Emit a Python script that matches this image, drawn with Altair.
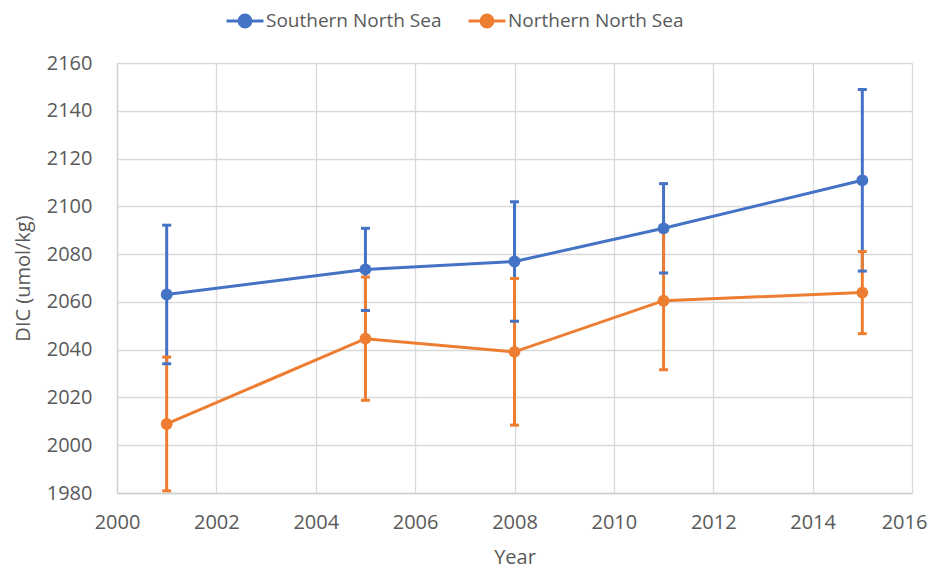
import altair as alt
import pandas as pd

years = [2001, 2005, 2008, 2011, 2015]
series_names = ["Southern North Sea", "Northern North Sea"]
south_mean = [2063.1, 2073.6, 2076.9, 2090.8, 2110.9]
south_err = [29.0, 17.2, 25.0, 18.7, 38.0]
north_mean = [2008.9, 2044.6, 2039.1, 2060.5, 2063.9]
north_err = [28.0, 25.8, 30.7, 28.9, 17.2]
colors = ["#4472C4", "#ED7D31"]
y_ticks = list(range(1980, 2161, 20))
x_ticks = list(range(2000, 2017, 2))

rows = []
for name, means, errs in [(series_names[0], south_mean, south_err),
                          (series_names[1], north_mean, north_err)]:
    for yr, m, e in zip(years, means, errs):
        rows.append({"Year": yr, "Series": name, "DIC": m, "lo": m - e, "hi": m + e})
df = pd.DataFrame(rows)

font = "Open Sans"
txt = "#595959"

x = alt.X("Year:Q", scale=alt.Scale(domain=[2000, 2016], nice=False),
          axis=alt.Axis(values=x_ticks, format="d", title="Year", labelPadding=19,
                        titlePadding=15, grid=True, labelFlush=False, labelOverlap=False,
                        labelOffset=alt.ExprRef(expr="datum.value == 2016 ? -8 : 0")))
y = alt.Y("DIC:Q", scale=alt.Scale(domain=[1980, 2160], nice=False, zero=False),
          axis=alt.Axis(values=y_ticks, format="d", title="DIC (umol/kg)",
                        labelPadding=25, titlePadding=13, grid=True, labelFlush=False,
                        labelOverlap=False))


def circ(r):
    return f"M {-r},0 A {r},{r} 0 1,0 {r},0 A {r},{r} 0 1,0 {-r},0 "


legend_symbol = "M -1,0 L 1,0 " + circ(0.32) + circ(0.18) + circ(0.06)

color = alt.Color(
    "Series:N", scale=alt.Scale(domain=series_names, range=colors),
    legend=alt.Legend(title=None, orient="none", direction="horizontal",
                      legendX=108, legendY=-62,
                      symbolType=legend_symbol, symbolSize=1369,
                      symbolStrokeWidth=3,
                      labelFont=font, labelFontSize=19, labelColor=txt,
                      labelOffset=1, columnPadding=20, labelLimit=400))

base = alt.Chart(df)

rules = base.mark_rule(strokeWidth=3).encode(
    x=x, y=alt.Y("lo:Q"), y2="hi:Q", color=color)
caps_hi = base.mark_tick(orient="horizontal", size=9, thickness=3, opacity=1).encode(
    x=x, y=alt.Y("hi:Q"), color=color)
caps_lo = base.mark_tick(orient="horizontal", size=9, thickness=3, opacity=1).encode(
    x=x, y=alt.Y("lo:Q"), color=color)
lines = base.mark_line(strokeWidth=3).encode(x=x, y=y, color=color)
points = base.mark_circle(size=140, opacity=1).encode(x=x, y=y, color=color)

chart = alt.layer(rules, caps_hi, caps_lo, lines, points).properties(
    width=795, height=430,
    autosize=alt.AutoSizeParams(type="none"),
    padding={"left": 109, "top": 55, "right": 16, "bottom": 76},
).configure_view(stroke=None).configure_axis(
    labelFont=font, labelFontSize=20, labelColor=txt,
    titleFont=font, titleFontSize=20, titleColor=txt, titleFontWeight="normal",
    gridColor="#d9d9d9", gridWidth=1.3, domainColor="#d0d0d0", domainWidth=1.3,
    ticks=False,
)

chart.save("out.html", embed_options={"renderer": "svg", "actions": False})
